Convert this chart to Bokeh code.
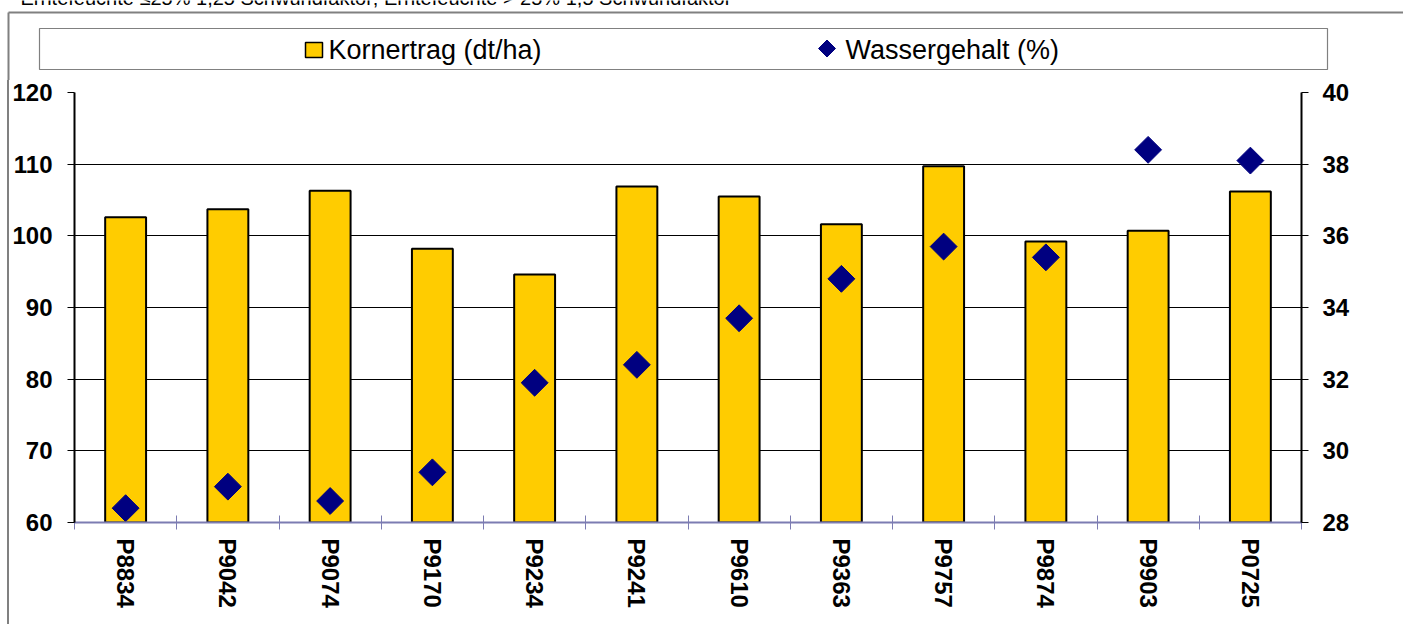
import math
from bokeh.plotting import figure
from bokeh.models import Range1d, LinearAxis, FixedTicker, ColumnDataSource
from bokeh.core.properties import value
from bokeh.embed import file_html
from bokeh.resources import INLINE

# ---- data ----
sorten = ["P8834", "P9042", "P9074", "P9170", "P9234", "P9241",
          "P9610", "P9363", "P9757", "P9874", "P9903", "P0725"]
kornertrag = [102.6, 103.7, 106.3, 98.2, 94.6, 106.9, 105.5, 101.6, 109.7, 99.2, 100.7, 106.2]
wassergehalt = [28.4, 29.0, 28.6, 29.4, 31.9, 32.4, 33.7, 34.8, 35.7, 35.4, 38.4, 38.1]
left_ticks = [60, 70, 80, 90, 100, 110, 120]
right_ticks = [28, 30, 32, 34, 36, 38, 40]
title_text = "Erntefeuchte \u226425% 1,25 Schwundfaktor; Erntefeuchte > 25% 1,5 Schwundfaktor"
legend_labels = ["Kornertrag (dt/ha)", "Wassergehalt (%)"]

FONT = "Liberation Sans"
W = 1403
HDR_H = 80
MAIN_H = 624 - HDR_H
BORDER_COL = "#808080"

# ---------------- header (legend area) ----------------
hdr = figure(width=W, height=HDR_H, x_range=Range1d(0, W), y_range=Range1d(HDR_H, 0),
             output_backend="svg", toolbar_location=None,
             x_axis_location=None, y_axis_location=None,
             min_border=0, min_border_left=0, min_border_right=0,
             min_border_top=0, min_border_bottom=0)
hdr.grid.visible = False
hdr.outline_line_color = None
hdr.background_fill_color = "white"
hdr.border_fill_color = "white"

# outer chart border (top and left edge)
hdr.segment(x0=[8, 8], y0=[12, 12], x1=[W + 10, 8], y1=[12, HDR_H + 5],
            line_color=BORDER_COL, line_width=2)
# legend frame
hdr.quad(left=[39], right=[1327], top=[28], bottom=[69],
         fill_color=None, line_color=BORDER_COL, line_width=1.2)
# legend symbol: bar
hdr.quad(left=[305], right=[322], top=[42], bottom=[57],
         fill_color="#FFCC00", line_color="black", line_width=1.5)
# legend symbol: diamond
hdr.scatter(x=[826.5], y=[48], marker="square", angle=math.pi / 4, size=12,
            fill_color="#000080", line_color="#000080")
# legend texts
hdr.text(x=[328, 845], y=[49, 49], text=legend_labels,
         text_font=value(FONT), text_font_size="27px", text_color="black",
         text_baseline="alphabetic", text_align="left")
# cut-off title line
hdr.text(x=[20], y=[-3], text=[title_text],
         text_font=value(FONT), text_font_size="20px", text_color="black",
         text_baseline="alphabetic", text_align="left")

# ---------------- main chart ----------------
n = len(sorten)
centers = [i + 0.5 for i in range(n)]
src = ColumnDataSource(dict(x=centers, sorte=sorten, korn=kornertrag, wasser=wassergehalt))

p = figure(width=W, height=MAIN_H, x_range=Range1d(0, n),
           y_range=Range1d(left_ticks[0], left_ticks[-1]),
           output_backend="svg", toolbar_location=None, x_axis_location=None,
           min_border_left=74, min_border_right=102, min_border_top=12, min_border_bottom=102,
           styles={"background": "linear-gradient(to right, #ffffff 0px, #ffffff 7px, "
                                 "#808080 7px, #808080 9px, #ffffff 9px, #ffffff 100%)"})
p.extra_y_ranges = {"w": Range1d(right_ticks[0], right_ticks[-1])}
p.outline_line_color = None
p.background_fill_color = "white"
p.border_fill_color = None

# grid
p.xgrid.visible = False
p.ygrid.grid_line_color = "black"
p.ygrid.grid_line_width = 1

# left axis
ya = p.yaxis[0]
ya.ticker = FixedTicker(ticks=left_ticks)
ya.axis_line_color = "black"
ya.axis_line_width = 2
ya.major_tick_line_color = "black"
ya.major_tick_out = 7
ya.major_tick_in = 0
ya.minor_tick_line_color = None
ya.major_label_text_font = FONT
ya.major_label_text_font_style = "bold"
ya.major_label_text_font_size = "24px"
ya.major_label_text_color = "black"
ya.major_label_standoff = 15

# right axis
ra = LinearAxis(y_range_name="w", ticker=FixedTicker(ticks=right_ticks),
                axis_line_color="black", axis_line_width=2,
                major_tick_line_color="black", major_tick_out=7, major_tick_in=0,
                minor_tick_line_color=None,
                major_label_text_font=FONT, major_label_text_font_style="bold",
                major_label_text_font_size="24px", major_label_text_color="black",
                major_label_standoff=14)
p.add_layout(ra, "right")

# bars
p.vbar(x="x", top="korn", width=0.4, source=src,
       fill_color="#FFCC00", line_color="black", line_width=2)

# diamonds
p.scatter(x="x", y="wasser", y_range_name="w", source=src, marker="square",
          angle=math.pi / 4, size=19, fill_color="#000080", line_color="#000080")

# bottom axis: line + ticks between categories
axis_col = "#7C7CB2"
tick_ax = LinearAxis(ticker=FixedTicker(ticks=list(range(n + 1))),
                     axis_line_color=axis_col, axis_line_width=2,
                     major_tick_line_color=axis_col, major_tick_line_width=1,
                     major_tick_in=7, major_tick_out=7, minor_tick_line_color=None,
                     major_label_text_font_size="0px", major_label_standoff=0,
                     major_label_overrides={i: "" for i in range(n + 1)})
p.add_layout(tick_ax, "below")
# category labels
cat_ax = LinearAxis(ticker=FixedTicker(ticks=centers),
                    major_label_overrides={c: s for c, s in zip(centers, sorten)},
                    axis_line_color=None, major_tick_line_color=None,
                    minor_tick_line_color=None,
                    major_tick_out=0, major_tick_in=0,
                    major_label_orientation="vertical",
                    major_label_text_font=FONT, major_label_text_font_style="bold",
                    major_label_text_font_size="24px", major_label_text_color="black",
                    major_label_standoff=9)
p.add_layout(cat_ax, "below")

open("out.html", "w").write(file_html([hdr, p], INLINE))
